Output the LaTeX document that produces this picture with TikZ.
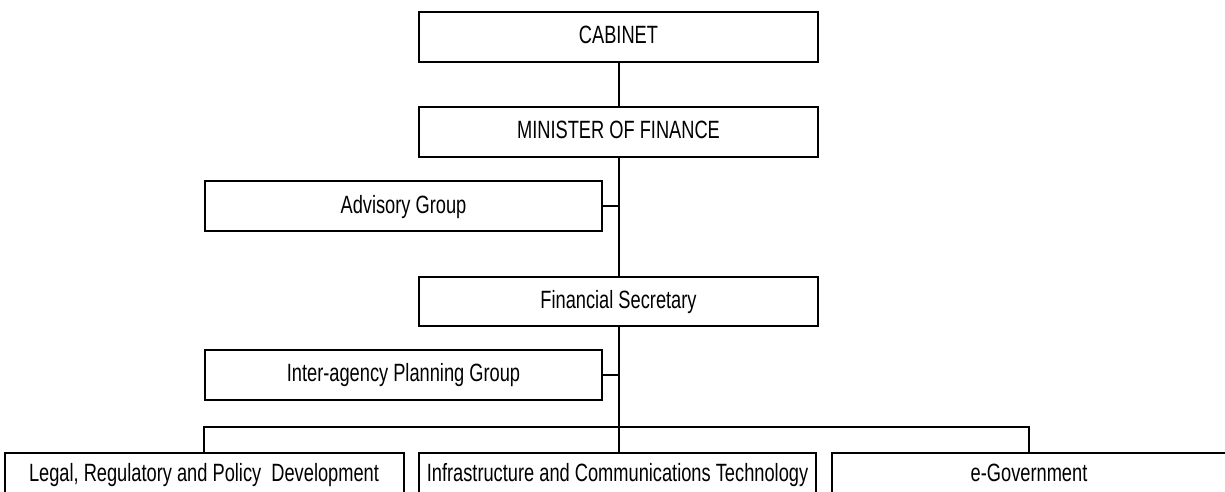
\documentclass[tikz,border=0pt]{standalone}
\usepackage{fontspec}
\setmainfont{Liberation Sans}[FakeStretch=0.73]

\begin{document}
\begin{tikzpicture}[x=1pt,y=-1pt]
	\tikzset{orgbox/.style={draw,line width=2pt,minimum width=399pt,minimum height=50pt,inner sep=0pt,text height=18pt,text depth=4pt,font=\fontsize{25}{30}\selectfont}}
	\tikzset{unitbox/.style={orgbox,text height=18pt,text depth=12pt}}
	\tikzset{orgline/.style={line width=2pt}}

	\useasboundingbox (0,0) rectangle (1225,492);
	\clip (0,0) rectangle (1225,492);

	% top of the chart
	\node[orgbox] (cabinet) at (618.5,37) {CABINET};
	\node[orgbox] (minister) at (618.5,132) {MINISTER OF FINANCE};
	\node[orgbox,minimum width=397pt] (advisory) at (403.5,206) {Advisory Group};
	\node[orgbox,minimum height=49pt] (finsec) at (618.5,301.5) {Financial Secretary};
	\node[orgbox,minimum width=397pt] (planning) at (403.5,374.5) {Inter-agency Planning Group};

	% units
	\node[unitbox] (legal) at (204,478) {Legal, Regulatory and Policy\ \ Development};
	\node[unitbox,minimum width=397pt] (infra) at (617.5,478) {Infrastructure and Communications Technology};
	\node[unitbox,minimum width=395pt] (egov) at (1029,478) {e-Government};

	\coordinate (bus) at (618.5,427);

	\draw[orgline] (cabinet.south) -- (minister.north);
	\draw[orgline] (minister.south) -- (finsec.north);
	\draw[orgline] (advisory.east) -- (advisory.east -| minister.south);
	\draw[orgline] (finsec.south) -- (infra.north -| finsec.south);
	\draw[orgline] (planning.east) -- (planning.east -| finsec.south);
	\draw[orgline] (legal.north) |- (bus) -| (egov.north);

\end{tikzpicture}
\end{document}
